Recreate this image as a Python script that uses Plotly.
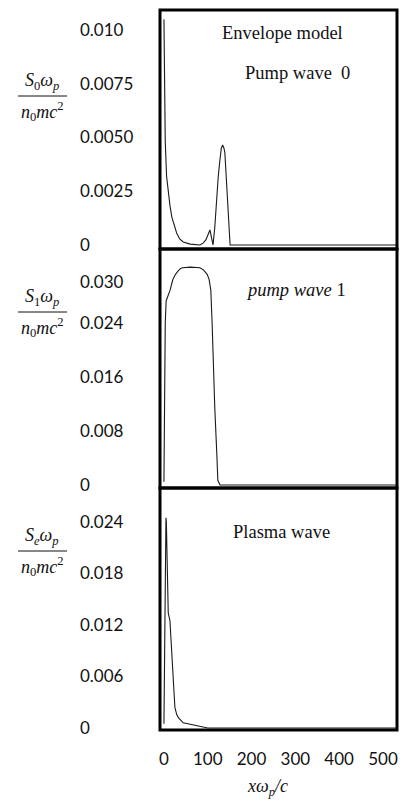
import plotly.graph_objects as go
from plotly.subplots import make_subplots

# ---- data: normalised energy flux along x (x in units of c/omega_p) ----
x_pump0 = [0, 1, 2, 3, 6, 10, 14, 18, 24, 29, 36, 44, 60, 82, 90, 96, 101, 105, 108, 112,
           116, 120, 124, 128, 131, 134, 137, 139, 142, 144, 147, 151, 170, 250, 400, 532]
s_pump0 = [0.0105, 0.0092, 0.0068, 0.0048, 0.0032, 0.0024, 0.0018, 0.0013, 0.0009, 0.00056,
           0.00028, 0.00014, 0.00004, 0.0, 0.0001, 0.00025, 0.0005, 0.0007, 0.0004, 0.0,
           0.0008, 0.0021, 0.0032, 0.0040, 0.0045, 0.00465, 0.0045, 0.0043, 0.0032, 0.0021,
           0.0009, 0.0, 0.0, 0.0, 0.0, 0.0]

x_pump1 = [0, 1, 2, 3, 5, 9, 14, 20, 26, 32, 38, 43, 60, 82, 90, 94, 99, 103, 105, 107,
           110, 112, 116, 121, 123, 128, 200, 350, 532]
s_pump1 = [0.0005, 0.008, 0.018, 0.024, 0.0272, 0.0278, 0.0288, 0.0303, 0.0311, 0.0316,
           0.0320, 0.0321, 0.0322, 0.0321, 0.0318, 0.0315, 0.0311, 0.0304, 0.0298, 0.0288,
           0.0239, 0.0189, 0.0115, 0.0041, 0.0007, 0.0, 0.0, 0.0, 0.0]

x_plasma = [0, 1, 2, 3, 4, 4.6, 5.5, 6.2, 8, 9.8, 13.7, 17.6, 21, 25, 29, 33, 44, 66, 89,
            100, 200, 350, 532]
s_plasma = [0.0005, 0.006, 0.013, 0.020, 0.0238, 0.0245, 0.0240, 0.0227, 0.0175, 0.0134,
            0.0125, 0.0091, 0.0052, 0.0024, 0.0016, 0.0012, 0.0006, 0.00035, 0.0001,
            0.0, 0.0, 0.0, 0.0]

x_ticks = [0, 100, 200, 300, 400, 500]
y_ticks_pump0 = [0, 0.0025, 0.005, 0.0075, 0.010]
y_text_pump0 = ["0", "0.0025", "0.0050", "0.0075", "0.010"]
y_ticks_pump1 = [0, 0.008, 0.016, 0.024, 0.030]
y_text_pump1 = ["0", "0.008", "0.016", "0.024", "0.030"]
y_ticks_plasma = [0, 0.006, 0.012, 0.018, 0.024]
y_text_plasma = ["0", "0.006", "0.012", "0.018", "0.024"]

panel_titles = ["Envelope model", "Pump wave  0", "<i>pump wave</i> 1", "Plasma wave"]

# ---- figure ----
W, H = 402, 801
ML, MR, MT, MB = 0, 5, 10, 71
PW = W - ML - MR
PH = H - MT - MB
x_left = 160  # pixel where the framed panels begin

fig = make_subplots(rows=3, cols=1, shared_xaxes=True, vertical_spacing=0)

line_style = dict(color="#1a1a1a", width=1.1)
fig.add_trace(go.Scatter(x=x_pump0, y=s_pump0, mode="lines", line=line_style), row=1, col=1)
fig.add_trace(go.Scatter(x=x_pump1, y=s_pump1, mode="lines", line=line_style), row=2, col=1)
fig.add_trace(go.Scatter(x=x_plasma, y=s_plasma, mode="lines", line=line_style), row=3, col=1)

# panel heights in pixels: 239, 239, 242
d3 = 242 / PH
d2 = d3 + 239 / PH
fig.update_layout(
    yaxis=dict(domain=[d2, 1]),
    yaxis2=dict(domain=[d3, d2]),
    yaxis3=dict(domain=[0, d3]),
)

xdom = [x_left / PW, 1]
for i in (1, 2, 3):
    fig.update_xaxes(
        row=i, col=1, domain=xdom, range=[-9, 532], showgrid=False, zeroline=False,
        showline=False, ticks="", tickvals=x_ticks,
        tickfont=dict(family="Lato", size=17, color="#111"),
    )
fig.update_xaxes(row=3, col=1, showticklabels=True, ticklabelstandoff=17)

tick_font = dict(family="Lato", size=17, color="#111")
ranges = [[-0.000186, 0.01093], [-0.00044, 0.03488], [-0.00023, 0.02796]]
tvals = [y_ticks_pump0, y_ticks_pump1, y_ticks_plasma]
ttext = [y_text_pump0, y_text_pump1, y_text_plasma]
for i in range(3):
    fig.update_yaxes(
        row=i + 1, col=1, range=ranges[i], tickvals=tvals[i], ticktext=ttext[i],
        side="right", anchor="free", position=79 / PW, showline=False, ticks="",
        showgrid=False, zeroline=False, tickfont=tick_font,
    )

# panel frames
for xr, yr in (("x", "y"), ("x2", "y2"), ("x3", "y3")):
    fig.add_shape(type="rect", xref=f"{xr} domain", yref=f"{yr} domain",
                  x0=0, x1=1, y0=0, y1=1, line=dict(color="black", width=3))


def px_x(px):
    return (px - ML) / PW


def px_y(py):
    return 1 - (py - MT) / PH


serif = "Liberation Serif"
ann = [
    (282, 33, panel_titles[0]),
    (297, 73, panel_titles[1]),
    (296, 290, panel_titles[2]),
    (281, 532, panel_titles[3]),
]
for x0, y0, t in ann:
    fig.add_annotation(x=px_x(x0), y=px_y(y0), xref="paper", yref="paper", text=t,
                       showarrow=False, xanchor="center", yanchor="middle",
                       font=dict(family=serif, size=18.5, color="#111"))

# y-axis quantity labels written as fractions
numerators = [
    "<i>S</i><sub>0</sub><i>ω</i><sub><i>p</i></sub>",
    "<i>S</i><sub>1</sub><i>ω</i><sub><i>p</i></sub>",
    "<i>S</i><sub><i>e</i></sub><i>ω</i><sub><i>p</i></sub>",
]
denominator = "<i>n</i><sub>0</sub><i>mc</i><sup>2</sup>"
bar_y = [96, 312, 551]
for num, yb in zip(numerators, bar_y):
    fig.add_annotation(x=px_x(42), y=px_y(yb - 1), xref="paper", yref="paper", text=num,
                       showarrow=False, xanchor="center", yanchor="bottom",
                       font=dict(family=serif, size=18, color="#111"))
    fig.add_annotation(x=px_x(42), y=px_y(yb + 1), xref="paper", yref="paper",
                       text=denominator, showarrow=False, xanchor="center", yanchor="top",
                       font=dict(family=serif, size=18, color="#111"))
    fig.add_shape(type="line", xref="paper", yref="paper", x0=px_x(18), x1=px_x(67),
                  y0=px_y(yb), y1=px_y(yb), line=dict(color="#111", width=1))

# x-axis quantity label
fig.add_annotation(x=px_x(267), y=px_y(787), xref="paper", yref="paper",
                   text="<i>xω</i><sub><i>p</i></sub><i>/c</i>", showarrow=False,
                   xanchor="center", yanchor="middle",
                   font=dict(family=serif, size=18, color="#111"))

fig.update_layout(
    width=W, height=H, margin=dict(l=ML, r=MR, t=MT, b=MB),
    paper_bgcolor="white", plot_bgcolor="white", showlegend=False,
)

fig.write_html("out.html")
